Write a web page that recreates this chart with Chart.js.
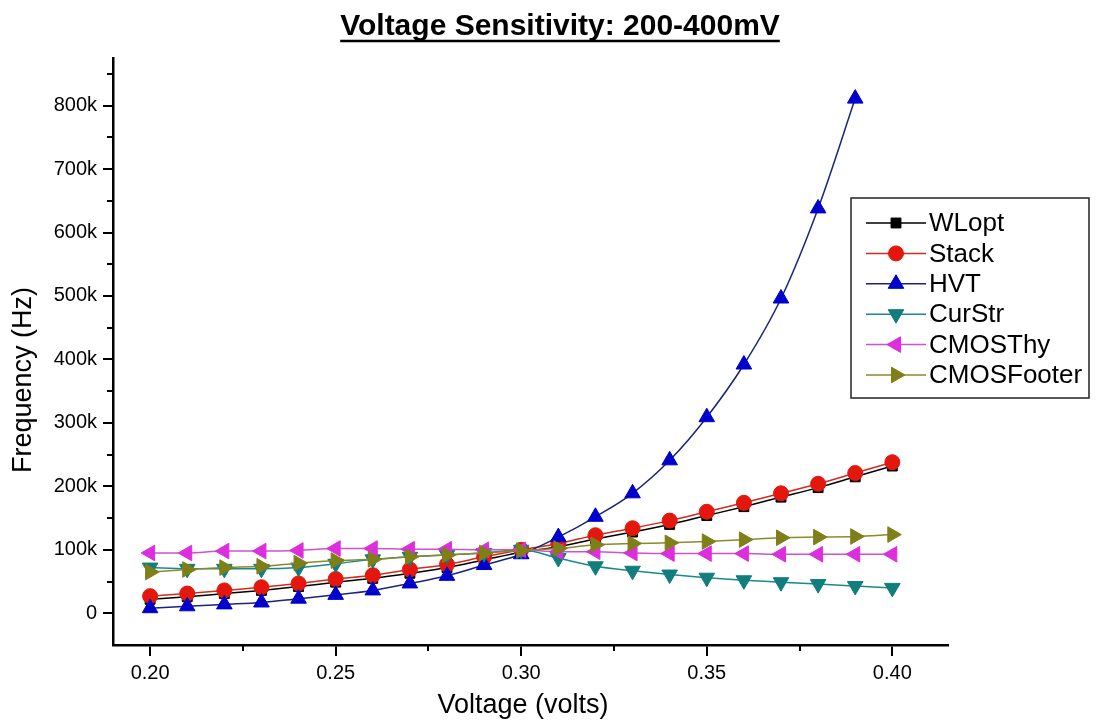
<!DOCTYPE html>
<html>
<head>
<meta charset="utf-8">
<title>Voltage Sensitivity: 200-400mV</title>
<script src="https://cdn.jsdelivr.net/npm/chart.js@4"></script>
<style>
    html, body { margin: 0; padding: 0; background: #fff; }
    #chart { display: block; }
</style>
</head>
<body>
<canvas id="chart" width="1097" height="722"></canvas>
<script>
// voltage points (volts)
var voltages = [0.20, 0.21, 0.22, 0.23, 0.24, 0.25, 0.26, 0.27, 0.28, 0.29, 0.30,
                0.31, 0.32, 0.33, 0.34, 0.35, 0.36, 0.37, 0.38, 0.39, 0.40];

// frequency in kHz
var wlopt      = [22, 26, 31, 36, 42, 49, 55, 63, 72, 84, 96, 105, 117, 128, 140, 154, 168, 183, 198, 215, 232];
var stack      = [27, 31, 36, 41, 47, 54, 60, 69, 77, 89, 100, 110, 123, 134, 146, 160, 174, 189, 204, 221, 238];
var hvt        = [8, 11, 14, 17, 23, 29, 36, 47, 59, 76, 93, 120, 152, 189, 241, 309, 392, 496, 638, 811, null];
var curStr     = [72, 70, 70, 70, 72, 78, 85, 89, 92, 95, 100, 87, 74, 67, 61, 56, 52, 49, 46, 43, 40];
var cmosThy    = [95, 95, 98, 98, 99, 102, 102, 101, 101, 100, 100, 97, 97, 95, 94, 94, 94, 93, 93, 93, 93];
var cmosFooter = [65, 69, 72, 74, 79, 83, 85, 89, 92, 95, 99, 102, 108, 110, 111, 113, 116, 119, 120, 121, 124];

var seriesNames = ['WLopt', 'Stack', 'HVT', 'CurStr', 'CMOSThy', 'CMOSFooter'];

// axis ticks
var xMajorTicks = [0.20, 0.25, 0.30, 0.35, 0.40];
var xMinorTicks = [0.225, 0.275, 0.325, 0.375];
var yMajorTicks = [0, 100, 200, 300, 400, 500, 600, 700, 800];
var yMinorTicks = [50, 150, 250, 350, 450, 550, 650, 750, 850];

var FONT = 'Arial, "Liberation Sans", sans-serif';

var toPoints = function (values) {
    var pts = [];
    values.forEach(function (v, i) {
        if (v !== null) {
            pts.push({ x: voltages[i], y: v });
        }
    });
    return pts;
};

var makeDataset = function (label, values, line, marker, style, rotation, radius, order) {
    return {
        label: label,
        data: toPoints(values),
        borderColor: line,
        borderWidth: 1.5,
        backgroundColor: marker,
        pointBackgroundColor: marker,
        pointBorderColor: marker,
        pointBorderWidth: 1,
        pointStyle: style,
        pointRotation: rotation,
        pointRadius: radius,
        cubicInterpolationMode: 'monotone',
        order: order
    };
};

var datasets = [
    makeDataset(seriesNames[0], wlopt, '#000000', '#000000', 'rect', 0, 7, 6),
    makeDataset(seriesNames[1], stack, '#d42a1e', '#e3170d', 'circle', 0, 7.5, 5),
    makeDataset(seriesNames[2], hvt, '#1a237e', '#0000cc', 'triangle', 0, 9, 4),
    makeDataset(seriesNames[3], curStr, '#198a8a', '#117d7d', 'triangle', 180, 9, 3),
    makeDataset(seriesNames[4], cmosThy, '#d050d0', '#dd2edd', 'triangle', 270, 9, 2),
    makeDataset(seriesNames[5], cmosFooter, '#8a8a28', '#7f7f17', 'triangle', 90, 9, 1)
];

var background = {
    id: 'background',
    beforeDraw: function (chart) {
        var ctx = chart.ctx;
        ctx.save();
        ctx.fillStyle = '#ffffff';
        ctx.fillRect(0, 0, chart.width, chart.height);
        ctx.restore();
    }
};

// minor ticks, titles and the boxed legend inside the plot
var decorations = {
    id: 'decorations',
    afterDraw: function (chart) {
        var ctx = chart.ctx;
        var xs = chart.scales.x;
        var ys = chart.scales.y;
        var area = chart.chartArea;

        ctx.save();
        ctx.strokeStyle = '#000';
        ctx.lineWidth = 2;
        yMinorTicks.forEach(function (v) {
            var py = Math.round(ys.getPixelForValue(v));
            ctx.beginPath();
            ctx.moveTo(area.left - 6, py);
            ctx.lineTo(area.left, py);
            ctx.stroke();
        });
        xMinorTicks.forEach(function (v) {
            var px = Math.round(xs.getPixelForValue(v));
            ctx.beginPath();
            ctx.moveTo(px, area.bottom);
            ctx.lineTo(px, area.bottom + 6);
            ctx.stroke();
        });

        // title, underlined
        var title = 'Voltage Sensitivity: 200-400mV';
        ctx.fillStyle = '#000';
        ctx.font = 'bold 30px ' + FONT;
        ctx.textAlign = 'center';
        ctx.textBaseline = 'alphabetic';
        ctx.fillText(title, 560, 35);
        var w = ctx.measureText(title).width;
        ctx.lineWidth = 2.5;
        ctx.beginPath();
        ctx.moveTo(560 - w / 2, 41);
        ctx.lineTo(560 + w / 2, 41);
        ctx.stroke();

        // axis titles
        ctx.font = '27px ' + FONT;
        ctx.fillText('Voltage (volts)', 523, 713);
        ctx.save();
        ctx.translate(24, 380);
        ctx.rotate(-Math.PI / 2);
        ctx.textBaseline = 'middle';
        ctx.fillText('Frequency (Hz)', 0, 0);
        ctx.restore();

        // legend
        ctx.fillStyle = '#fff';
        ctx.fillRect(851, 198, 238, 200);
        ctx.strokeStyle = '#222';
        ctx.lineWidth = 1.5;
        ctx.strokeRect(851, 198, 238, 200);
        ctx.font = '26px ' + FONT;
        ctx.textAlign = 'left';
        ctx.textBaseline = 'middle';
        chart.data.datasets.forEach(function (ds, i) {
            var ry = 223 + i * 30.4;
            ctx.strokeStyle = ds.borderColor;
            ctx.lineWidth = 1.5;
            ctx.beginPath();
            ctx.moveTo(866, ry);
            ctx.lineTo(926, ry);
            ctx.stroke();
            ctx.fillStyle = ds.pointBackgroundColor;
            ctx.strokeStyle = ds.pointBorderColor;
            ctx.lineWidth = 1;
            Chart.helpers.drawPoint(ctx, {
                pointStyle: ds.pointStyle,
                rotation: ds.pointRotation,
                radius: ds.pointRadius,
                borderWidth: 1
            }, 896, ry);
            ctx.fillStyle = '#000';
            ctx.fillText(ds.label, 929, ry + 1);
        });
        ctx.restore();
    }
};

var ctx = document.getElementById('chart').getContext('2d');

var myChart = new Chart(ctx, {
    type: 'line',
    data: { datasets: datasets },
    plugins: [background, decorations],
    options: {
        responsive: false,
        animation: false,
        layout: {
            padding: { top: 58, right: 149, left: 0, bottom: 0 }
        },
        plugins: {
            legend: { display: false },
            title: { display: false },
            tooltip: { enabled: false }
        },
        scales: {
            x: {
                type: 'linear',
                min: 0.19,
                max: 0.415,
                afterBuildTicks: function (scale) {
                    scale.ticks = xMajorTicks.map(function (v) { return { value: v }; });
                },
                afterFit: function (scale) {
                    scale.height = 77;
                },
                ticks: {
                    color: '#000',
                    font: { family: FONT, size: 20 },
                    padding: 5,
                    maxRotation: 0,
                    callback: function (v) { return Number(v).toFixed(2); }
                },
                grid: {
                    drawOnChartArea: false,
                    drawTicks: true,
                    tickLength: 11,
                    color: '#000',
                    lineWidth: 2
                },
                border: { display: true, color: '#000', width: 2.5 }
            },
            y: {
                type: 'linear',
                min: -50,
                max: 875,
                afterBuildTicks: function (scale) {
                    scale.ticks = yMajorTicks.map(function (v) { return { value: v }; });
                },
                afterFit: function (scale) {
                    scale.width = 113;
                },
                ticks: {
                    color: '#000',
                    font: { family: FONT, size: 20 },
                    padding: 6,
                    callback: function (v) { return v === 0 ? '0' : v + 'k'; }
                },
                grid: {
                    drawOnChartArea: false,
                    drawTicks: true,
                    tickLength: 10,
                    color: '#000',
                    lineWidth: 2
                },
                border: { display: true, color: '#000', width: 2.5 }
            }
        }
    }
});
</script>
</body>
</html>
